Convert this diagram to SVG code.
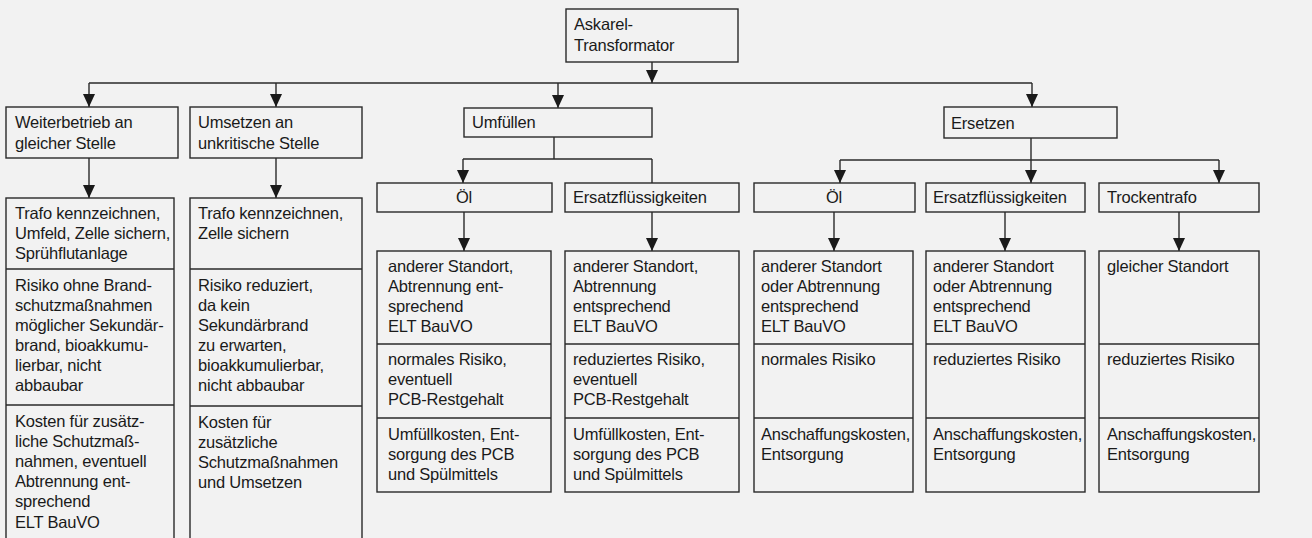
<svg xmlns="http://www.w3.org/2000/svg" width="1312" height="538" viewBox="0 0 1312 538">
<defs>
<marker id="ah" viewBox="0 0 13 12" refX="13" refY="6" markerWidth="13" markerHeight="12" markerUnits="userSpaceOnUse" orient="auto">
<path d="M0,0 L13,6 L0,12 z" fill="#1a1a1a"/>
</marker>
<style>
.b{fill:none;stroke:#2a2a2a;stroke-width:1.4}
.c{fill:none;stroke:#2a2a2a;stroke-width:1.4}
.a{marker-end:url(#ah)}
text{font-family:"Liberation Sans",Arial,Helvetica,sans-serif;font-size:16.5px;letter-spacing:-0.2px;fill:#1a1a1a}
.m{text-anchor:middle}
</style>
</defs>
<rect x="0" y="0" width="1312" height="538" fill="#f2f2f2"/>

<g id="connectors">
<line class="c a" x1="652" y1="62" x2="652" y2="83"/>
<line class="c" x1="89" y1="83" x2="1032" y2="83"/>
<line class="c a" x1="89" y1="83" x2="89" y2="107"/>
<line class="c a" x1="276" y1="83" x2="276" y2="107"/>
<line class="c a" x1="558" y1="83" x2="558" y2="108"/>
<line class="c a" x1="1032" y1="83" x2="1032" y2="107"/>
<line class="c a" x1="89" y1="158" x2="89" y2="198"/>
<line class="c a" x1="276" y1="158" x2="276" y2="198"/>
<polyline class="c" points="554,137 554,159"/>
<line class="c" x1="463" y1="159" x2="652" y2="159"/>
<line class="c a" x1="463" y1="159" x2="463" y2="183"/>
<line class="c" x1="652" y1="159" x2="652" y2="183"/>
<line class="c a" x1="1031" y1="138" x2="1031" y2="183"/>
<line class="c" x1="840" y1="160" x2="1219" y2="160"/>
<line class="c a" x1="840" y1="160" x2="840" y2="183"/>
<line class="c a" x1="1219" y1="160" x2="1219" y2="183"/>
<line class="c a" x1="464" y1="212" x2="464" y2="251"/>
<line class="c a" x1="652" y1="212" x2="652" y2="251"/>
<line class="c a" x1="834" y1="212" x2="834" y2="251"/>
<line class="c a" x1="1005" y1="212" x2="1005" y2="251"/>
<line class="c a" x1="1179" y1="212" x2="1179" y2="251"/>
</g>

<g id="askarel">
<rect class="b" x="566" y="9" width="172" height="53"/>
<text x="574" y="30">Askarel-</text>
<text x="574" y="51">Transformator</text>
</g>

<g id="weiterbetrieb">
<rect class="b" x="6" y="107" width="172" height="51"/>
<text x="15" y="128">Weiterbetrieb an</text>
<text x="15" y="149">gleicher Stelle</text>
</g>

<g id="umsetzen">
<rect class="b" x="190" y="107" width="172" height="51"/>
<text x="198" y="128">Umsetzen an</text>
<text x="198" y="149">unkritische Stelle</text>
</g>

<g id="umfuellen">
<rect class="b" x="464" y="108" width="188" height="29"/>
<text x="472" y="128">Umfüllen</text>
</g>

<g id="ersetzen">
<rect class="b" x="944" y="107" width="173" height="31"/>
<text x="951" y="129">Ersetzen</text>
</g>

<g id="oel1">
<rect class="b" x="377" y="183" width="175" height="29"/>
<text class="m" x="464" y="203">Öl</text>
</g>
<g id="ersatz1">
<rect class="b" x="565" y="183" width="174" height="29"/>
<text x="573" y="203">Ersatzflüssigkeiten</text>
</g>
<g id="oel2">
<rect class="b" x="754" y="183" width="161" height="29"/>
<text class="m" x="834" y="203">Öl</text>
</g>
<g id="ersatz2">
<rect class="b" x="926" y="183" width="159" height="29"/>
<text x="933" y="203">Ersatzflüssigkeiten</text>
</g>
<g id="trocken">
<rect class="b" x="1099" y="183" width="160" height="29"/>
<text x="1107" y="203">Trockentrafo</text>
</g>

<g id="detail-weiterbetrieb">
<rect class="b" x="6" y="198" width="168" height="350"/>
<line class="b" x1="6" y1="269" x2="174" y2="269"/>
<line class="b" x1="6" y1="405" x2="174" y2="405"/>
<text x="15" y="219">Trafo kennzeichnen,</text>
<text x="15" y="239">Umfeld, Zelle sichern,</text>
<text x="15" y="259">Sprühflutanlage</text>
<text x="15" y="291">Risiko ohne Brand-</text>
<text x="15" y="311">schutzmaßnahmen</text>
<text x="15" y="331">möglicher Sekundär-</text>
<text x="15" y="351">brand, bioakkumu-</text>
<text x="15" y="371">lierbar, nicht</text>
<text x="15" y="391">abbaubar</text>
<text x="15" y="427">Kosten für zusätz-</text>
<text x="15" y="447">liche Schutzmaß-</text>
<text x="15" y="467">nahmen, eventuell</text>
<text x="15" y="487">Abtrennung ent-</text>
<text x="15" y="507">sprechend</text>
<text x="15" y="528">ELT BauVO</text>
</g>

<g id="detail-umsetzen">
<rect class="b" x="190" y="198" width="172" height="350"/>
<line class="b" x1="190" y1="269" x2="362" y2="269"/>
<line class="b" x1="190" y1="406" x2="362" y2="406"/>
<text x="198" y="219">Trafo kennzeichnen,</text>
<text x="198" y="239">Zelle sichern</text>
<text x="198" y="291">Risiko reduziert,</text>
<text x="198" y="311">da kein</text>
<text x="198" y="331">Sekundärbrand</text>
<text x="198" y="351">zu erwarten,</text>
<text x="198" y="371">bioakkumulierbar,</text>
<text x="198" y="391">nicht abbaubar</text>
<text x="198" y="428">Kosten für</text>
<text x="198" y="448">zusätzliche</text>
<text x="198" y="468">Schutzmaßnahmen</text>
<text x="198" y="488">und Umsetzen</text>
</g>

<g id="detail-oel1">
<rect class="b" x="377" y="251" width="174" height="241"/>
<line class="b" x1="377" y1="344" x2="551" y2="344"/>
<line class="b" x1="377" y1="418" x2="551" y2="418"/>
<text x="388" y="272">anderer Standort,</text>
<text x="388" y="292">Abtrennung ent-</text>
<text x="388" y="312">sprechend</text>
<text x="388" y="332">ELT BauVO</text>
<text x="388" y="365">normales Risiko,</text>
<text x="388" y="385">eventuell</text>
<text x="388" y="405">PCB-Restgehalt</text>
<text x="388" y="440">Umfüllkosten, Ent-</text>
<text x="388" y="460">sorgung des PCB</text>
<text x="388" y="480">und Spülmittels</text>
</g>

<g id="detail-ersatz1">
<rect class="b" x="565" y="251" width="174" height="241"/>
<line class="b" x1="565" y1="344" x2="739" y2="344"/>
<line class="b" x1="565" y1="418" x2="739" y2="418"/>
<text x="573" y="272">anderer Standort,</text>
<text x="573" y="292">Abtrennung</text>
<text x="573" y="312">entsprechend</text>
<text x="573" y="332">ELT BauVO</text>
<text x="573" y="365">reduziertes Risiko,</text>
<text x="573" y="385">eventuell</text>
<text x="573" y="405">PCB-Restgehalt</text>
<text x="573" y="440">Umfüllkosten, Ent-</text>
<text x="573" y="460">sorgung des PCB</text>
<text x="573" y="480">und Spülmittels</text>
</g>

<g id="detail-oel2">
<rect class="b" x="754" y="251" width="159" height="241"/>
<line class="b" x1="754" y1="344" x2="913" y2="344"/>
<line class="b" x1="754" y1="418" x2="913" y2="418"/>
<text x="761" y="272">anderer Standort</text>
<text x="761" y="292">oder Abtrennung</text>
<text x="761" y="312">entsprechend</text>
<text x="761" y="332">ELT BauVO</text>
<text x="761" y="365">normales Risiko</text>
<text x="761" y="440">Anschaffungskosten,</text>
<text x="761" y="460">Entsorgung</text>
</g>

<g id="detail-ersatz2">
<rect class="b" x="926" y="251" width="159" height="241"/>
<line class="b" x1="926" y1="344" x2="1085" y2="344"/>
<line class="b" x1="926" y1="418" x2="1085" y2="418"/>
<text x="933" y="272">anderer Standort</text>
<text x="933" y="292">oder Abtrennung</text>
<text x="933" y="312">entsprechend</text>
<text x="933" y="332">ELT BauVO</text>
<text x="933" y="365">reduziertes Risiko</text>
<text x="933" y="440">Anschaffungskosten,</text>
<text x="933" y="460">Entsorgung</text>
</g>

<g id="detail-trocken">
<rect class="b" x="1099" y="251" width="160" height="241"/>
<line class="b" x1="1099" y1="344" x2="1259" y2="344"/>
<line class="b" x1="1099" y1="418" x2="1259" y2="418"/>
<text x="1107" y="272">gleicher Standort</text>
<text x="1107" y="365">reduziertes Risiko</text>
<text x="1107" y="440">Anschaffungskosten,</text>
<text x="1107" y="460">Entsorgung</text>
</g>
</svg>
